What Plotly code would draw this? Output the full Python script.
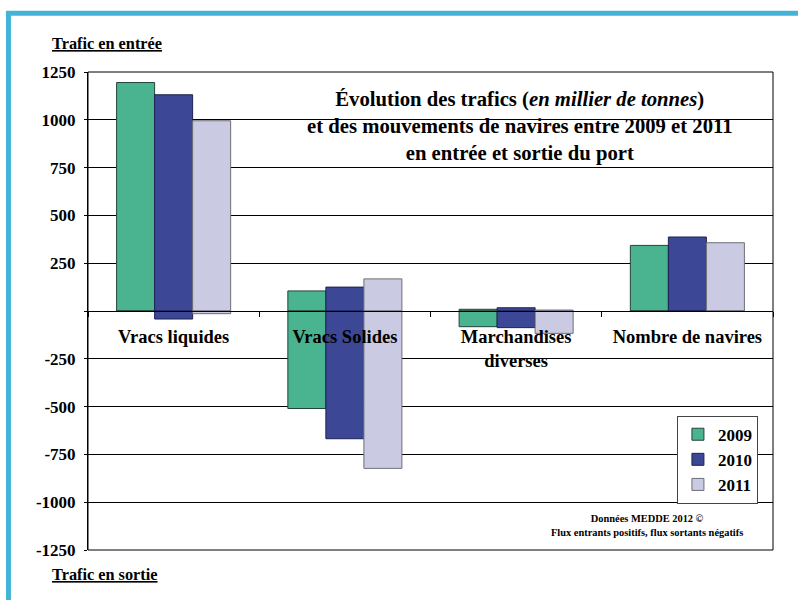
import plotly.graph_objects as go

categories = ["Vracs liquides", "Vracs Solides", "Marchandises diverses", "Nombre de navires"]
category_labels = ["Vracs liquides", "Vracs Solides", "Marchandises<br>diverses", "Nombre de navires"]
years = ["2009", "2010", "2011"]

# Trafic en entrée (positive) per year, by category
entree = {
    "2009": [1195, 105, 9, 343],
    "2010": [1131, 125, 17, 387],
    "2011": [995, 168, 5, 357],
}
# Trafic en sortie (negative) per year, by category
sortie = {
    "2009": [0, -510, -82, 0],
    "2010": [-42, -668, -87, 0],
    "2011": [-14, -823, -117, 0],
}

y_ticks = [1250, 1000, 750, 500, 250, 0, -250, -500, -750, -1000, -1250]
y_tick_labels = ["1250", "1000", "750", "500", "250", "", "-250", "-500", "-750", "-1000", "-1250"]

fill_colors = {"2009": "#49B48F", "2010": "#3C4796", "2011": "#CBCAE3"}
line_colors = {"2009": "#24443A", "2010": "#1E2352", "2011": "#6E6E78"}

SERIF = "Liberation Serif"

fig = go.Figure()
bar_w = 0.222
for i, yr in enumerate(years):
    off = -0.333 + i * bar_w
    fig.add_trace(go.Bar(
        x=categories, y=entree[yr], name=yr, legendgroup=yr,
        width=bar_w, offset=off,
        marker=dict(color=fill_colors[yr], line=dict(color=line_colors[yr], width=1)),
        showlegend=True,
    ))
    fig.add_trace(go.Bar(
        x=categories, y=sortie[yr], name=yr, legendgroup=yr,
        width=bar_w, offset=off,
        marker=dict(color=fill_colors[yr], line=dict(color=line_colors[yr], width=1)),
        showlegend=False,
    ))

fig.update_layout(
    width=798, height=600,
    margin=dict(l=88, r=25, t=72, b=50),
    paper_bgcolor="white", plot_bgcolor="white",
    barmode="overlay",
    font=dict(family=SERIF, color="black"),
    legend=dict(
        x=0.978, xanchor="right", y=0.281, yanchor="top",
        bgcolor="white", bordercolor="#444444", borderwidth=1,
        font=dict(family=SERIF, size=17, color="black", weight="bold"),
        itemwidth=30, tracegroupgap=0,
    ),
    xaxis=dict(
        categoryorder="array", categoryarray=categories,
        tickmode="array", tickvals=categories, ticktext=category_labels,
        anchor="free", position=0.5,
        showline=True, linecolor="black", linewidth=1,
        ticks="outside", ticklen=5, tickcolor="black", tickson="boundaries",
        ticklabelstandoff=9,
        tickfont=dict(family=SERIF, size=18.5, color="black", weight="bold"),
        showgrid=False, zeroline=False,
        range=[-0.5, 3.5],
    ),
    yaxis=dict(
        range=[-1250, 1250],
        tickmode="array", tickvals=y_ticks, ticktext=y_tick_labels,
        showgrid=True, gridcolor="black", gridwidth=1,
        zeroline=False,
        showline=True, linecolor="black", linewidth=1,
        ticks="outside", ticklen=3, tickcolor="black",
        ticklabelstandoff=5,
        tickfont=dict(family=SERIF, size=17, color="black", weight="bold"),
    ),
    shapes=[
        # plot frame
        dict(type="rect", xref="paper", yref="paper", x0=0, x1=1, y0=0, y1=1,
             line=dict(color="black", width=1), fillcolor="rgba(0,0,0,0)", layer="above"),
        # white box behind the title
        dict(type="rect", xref="paper", yref="paper", x0=0.280, x1=0.969, y0=0.806, y1=0.996,
             line=dict(width=0), fillcolor="white", layer="between"),
        # blue page border
        dict(type="path", xref="paper", yref="paper",
             path="M -0.1161,-0.105 L -0.1161,1.1227 L 1.0365,1.1227",
             line=dict(color="#45B3D8", width=5), layer="above"),
    ],
    annotations=[
        dict(xref="paper", yref="paper", x=0.631, y=0.885, xanchor="center", yanchor="middle",
             showarrow=False, align="center",
             text="<b>Évolution des trafics (<i>en millier de tonnes</i>)<br>"
                  "et des mouvements de navires entre 2009 et 2011<br>"
                  "en entrée et sortie du port</b>",
             font=dict(family=SERIF, size=20.7, color="black")),
        dict(xref="paper", yref="paper", x=-0.0555, y=1.0586, xanchor="left", yanchor="middle",
             showarrow=False, text="<b><u>Trafic en entrée</u></b>",
             font=dict(family=SERIF, size=16.3, color="black")),
        dict(xref="paper", yref="paper", x=-0.0555, y=-0.0523, xanchor="left", yanchor="middle",
             showarrow=False, text="<b><u>Trafic en sortie</u></b>",
             font=dict(family=SERIF, size=16.3, color="black")),
        dict(xref="paper", yref="paper", x=0.816, y=0.052, xanchor="center", yanchor="middle",
             showarrow=False, align="center",
             text="<b>Données MEDDE 2012 ©<br>Flux entrants positifs, flux sortants négatifs</b>",
             font=dict(family=SERIF, size=10.4, color="black")),
    ],
)

fig.write_html("out.html", config={"displayModeBar": False},
               post_script="document.body.style.margin='0px';")
